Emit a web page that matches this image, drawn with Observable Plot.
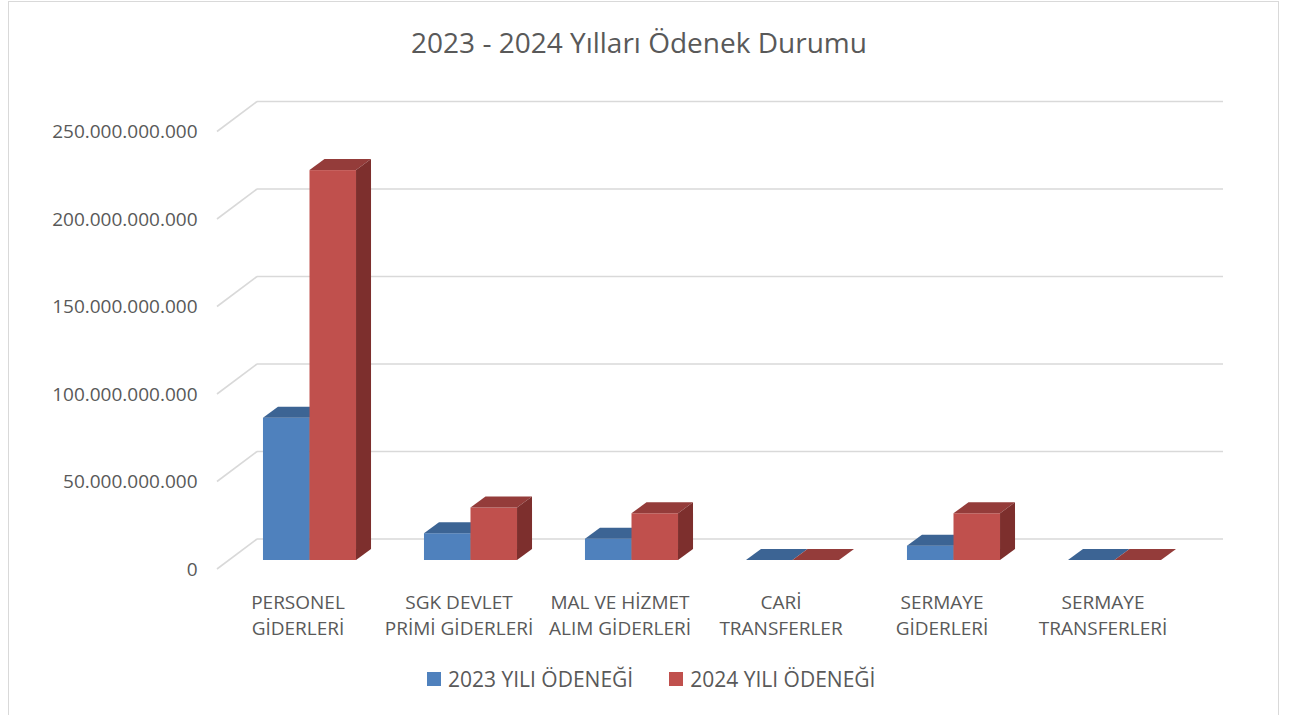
<!DOCTYPE html>
<html>
<head>
<meta charset="utf-8">
<script src="https://cdn.jsdelivr.net/npm/d3@7"></script>
<script src="https://cdn.jsdelivr.net/npm/@observablehq/plot@0.6"></script>
<style>
  html, body { margin: 0; padding: 0; background: #fff; overflow: hidden; }
  #wrap { position: relative; width: 1292px; height: 715px; font-family: "Open Sans", sans-serif; color: #595959; }
  #border { position: absolute; left: 8px; top: 1px; width: 1271px; height: 740px; border: 1.5px solid #d9d9d9; box-sizing: border-box; }
  #chart { position: absolute; left: 0; top: 0; }
  #title { position: absolute; left: 0; width: 1278px; top: 24px; text-align: center; font-size: 28px; line-height: 36px; color: #595959; }
  #legend { position: absolute; left: 427px; top: 665px; font-size: 21px; line-height: 26px; color: #595959; white-space: nowrap; }
  #legend .item { display: inline-flex; align-items: center; margin-right: 36px; }
  #legend .sw { display: inline-block; width: 14px; height: 14px; margin-right: 7px; }
</style>
</head>
<body>
<div id="wrap">
  <div id="border"></div>
  <div id="chart"></div>
  <div id="title"></div>
  <div id="legend"></div>
</div>
<script>
// ---- data ----
const chartTitle = "2023 - 2024 Yılları Ödenek Durumu";
const categories = [
  "PERSONEL\nGİDERLERİ",
  "SGK DEVLET\nPRİMİ GİDERLERİ",
  "MAL VE HİZMET\nALIM GİDERLERİ",
  "CARİ\nTRANSFERLER",
  "SERMAYE\nGİDERLERİ",
  "SERMAYE\nTRANSFERLERİ"
];
const seriesNames = ["2023 YILI ÖDENEĞİ", "2024 YILI ÖDENEĞİ"];
const values2023 = [81.3e9, 15.3e9, 12.2e9, 0, 8.2e9, 0];
const values2024 = [222.8e9, 30.0e9, 26.7e9, 0, 26.7e9, 0];
const yTicks = [0, 50e9, 100e9, 150e9, 200e9, 250e9];

// ---- styles ----
const frontColors = ["#4F81BD", "#C0504D"];
const topColors = ["#3C6494", "#943C3A"];
const sideColors = ["#2F4F75", "#7D2F2D"];
const gridColor = "#D9D9D9";

// 3D offsets (pixels)
const floorDepth = {dx: 40, dy: -30};
const barFront = {dx: 12, dy: -9};
const barSide = {dx: 15, dy: -11};
const barFrac = 0.289; // bar width as a fraction of the category band

const rows = [];
categories.forEach((c, i) => {
  rows.push({category: c, series: 0, value: values2023[i]});
  rows.push({category: c, series: 1, value: values2024[i]});
});

const trLocale = d3.formatLocale({decimal: ",", thousands: ".", grouping: [3], currency: ["", " TL"]});
const fmt = trLocale.format(",.0f");

function bandwidthOf(x) {
  return typeof x.bandwidth === "function" ? x.bandwidth() : x.bandwidth;
}

// gridlines (back wall + left wall diagonals)
function grid(index, scales, values, dimensions) {
  const {y} = scales;
  const {marginLeft, width, marginRight} = dimensions;
  const g = d3.create("svg:g");
  for (const t of yTicks) {
    const yy = y(t);
    g.append("line")
      .attr("x1", marginLeft).attr("y1", yy)
      .attr("x2", marginLeft + floorDepth.dx).attr("y2", yy + floorDepth.dy)
      .attr("stroke", gridColor).attr("stroke-width", 1.6);
    g.append("line")
      .attr("x1", marginLeft + floorDepth.dx).attr("y1", yy + floorDepth.dy)
      .attr("x2", width - marginRight + floorDepth.dx).attr("y2", yy + floorDepth.dy)
      .attr("stroke", gridColor).attr("stroke-width", 1.6);
  }
  return g.node();
}

// 3D bars
function bars3d(index, scales, values, dimensions) {
  const {x, y} = scales;
  const bw = bandwidthOf(x);
  const g = d3.create("svg:g");
  for (const r of rows) {
    const bx = x(r.category) + bw * (0.5 - barFrac) + r.series * bw * barFrac;
    const L = bx + barFront.dx;
    const R = L + bw * barFrac;
    const y0 = y(0) + barFront.dy;
    const yv = y(r.value) + barFront.dy;
    const d = barSide.dx, e = barSide.dy;
    if (y0 - yv > 0.01) {
      g.append("rect").attr("x", L).attr("y", yv).attr("width", R - L).attr("height", y0 - yv)
        .attr("fill", frontColors[r.series]);
    }
    g.append("polygon")
      .attr("points", [[L, yv], [R, yv], [R + d, yv + e], [L + d, yv + e]].map(p => p.join(",")).join(" "))
      .attr("fill", topColors[r.series]);
    if (y0 - yv > 0.01) {
      g.append("polygon")
        .attr("points", [[R, yv], [R + d, yv + e], [R + d, y0 + e], [R, y0]].map(p => p.join(",")).join(" "))
        .attr("fill", sideColors[r.series]);
    }
  }
  return g.node();
}

const W = 1292, H = 715;
const plot = Plot.plot({
  width: W,
  height: H,
  marginLeft: 217,
  marginRight: 109,
  marginTop: 131.5,
  marginBottom: 146,
  style: {fontFamily: "'Open Sans', sans-serif", fontSize: "19px", color: "#595959", background: "transparent"},
  x: {type: "band", domain: categories, padding: 0, axis: null},
  y: {domain: [0, 250e9], nice: false},
  marks: [
    grid,
    Plot.axisY({ticks: yTicks, tickSize: 0, tickPadding: 20, tickFormat: fmt, label: null, fontSize: 19, fill: "#595959"}),
    bars3d,
    Plot.text(categories, {
      x: d => d, text: d => d, frameAnchor: "bottom", lineAnchor: "top",
      dy: 21, lineHeight: 1.37, fontSize: 19, fill: "#595959"
    })
  ]
});
document.getElementById("chart").appendChild(plot);

document.getElementById("title").textContent = chartTitle;
const leg = d3.select("#legend");
seriesNames.forEach((n, i) => {
  const it = leg.append("span").attr("class", "item");
  it.append("span").attr("class", "sw").style("background", frontColors[i]);
  it.append("span").text(n);
});
</script>
</body>
</html>
